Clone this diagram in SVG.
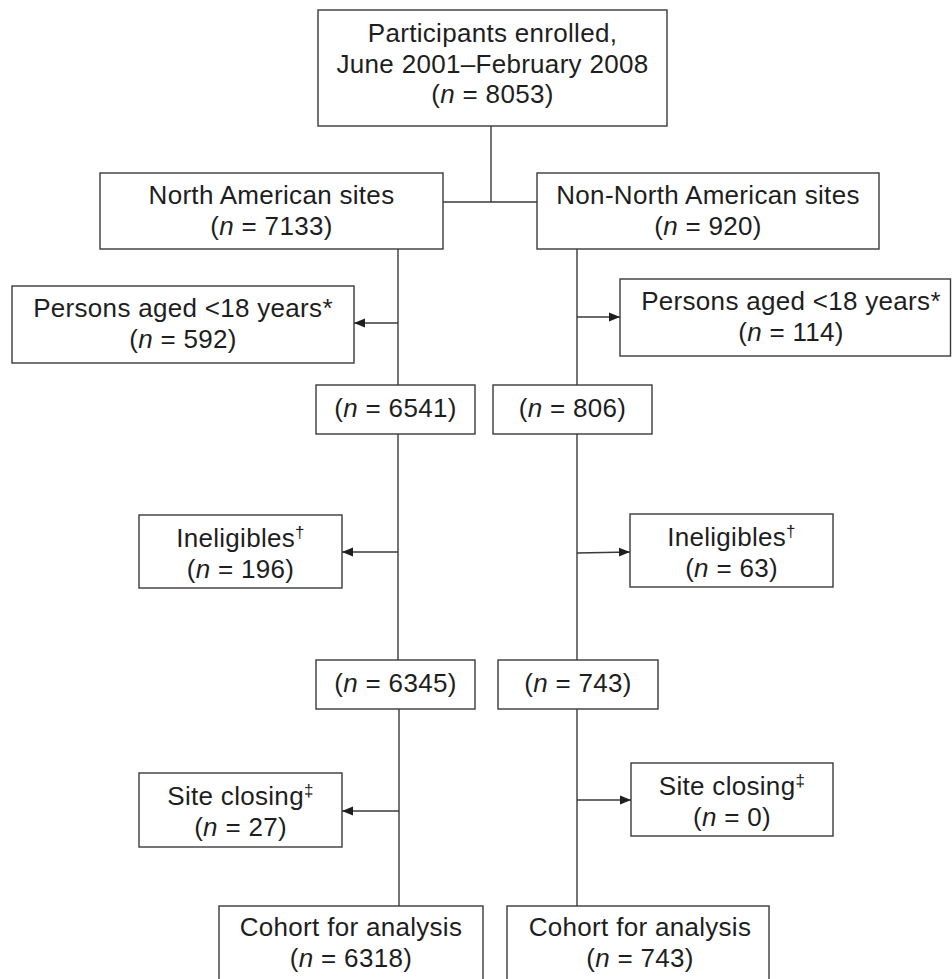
<svg xmlns="http://www.w3.org/2000/svg" width="952" height="979" viewBox="0 0 952 979">
<style>
.box{fill:#fff;stroke:#3a3a3a;stroke-width:1.4}
.ln{fill:none;stroke:#3a3a3a;stroke-width:1.4}
text{font-family:"Liberation Sans",Arial,sans-serif;font-size:26px;fill:#1e1e1e;text-anchor:middle;letter-spacing:0.3px}
.i{font-style:italic}
.sup{font-size:17px}
</style>
<defs>
<marker id="ah" viewBox="0 0 10 10" refX="10" refY="5" markerWidth="11" markerHeight="11" markerUnits="userSpaceOnUse" orient="auto">
<path d="M0,1 L10,5 L0,9 Z" fill="#1e1e1e"/>
</marker>
</defs>
<rect width="952" height="979" fill="#fff"/>
<g id="connectors">
<line class="ln" x1="491" y1="126" x2="491" y2="202"/>
<line class="ln" x1="443" y1="202" x2="537" y2="202"/>
<line class="ln" x1="398" y1="249" x2="398" y2="385"/>
<line class="ln" x1="398" y1="434" x2="398" y2="660"/>
<line class="ln" x1="399" y1="709" x2="399" y2="906"/>
<line class="ln" x1="577" y1="249" x2="577" y2="385"/>
<line class="ln" x1="577" y1="434" x2="577" y2="660"/>
<line class="ln" x1="577" y1="709" x2="577" y2="906"/>
<line class="ln" x1="398" y1="323" x2="354" y2="323" marker-end="url(#ah)"/>
<line class="ln" x1="398" y1="552" x2="342" y2="552" marker-end="url(#ah)"/>
<line class="ln" x1="399" y1="811" x2="342" y2="811" marker-end="url(#ah)"/>
<line class="ln" x1="577" y1="317" x2="620" y2="317" marker-end="url(#ah)"/>
<line class="ln" x1="577" y1="553" x2="630" y2="552" marker-end="url(#ah)"/>
<line class="ln" x1="577" y1="800" x2="631" y2="800" marker-end="url(#ah)"/>
</g>
<g id="enrolled">
<rect class="box" x="318" y="10" width="349" height="116"/>
<text x="492.5" y="42">Participants enrolled,</text>
<text x="492.5" y="73">June 2001–February 2008</text>
<text x="492.5" y="103">(<tspan class="i">n</tspan> = 8053)</text>
</g>
<g id="na">
<rect class="box" x="100" y="173" width="343" height="76"/>
<text x="271.5" y="204">North American sites</text>
<text x="271.5" y="235">(<tspan class="i">n</tspan> = 7133)</text>
</g>
<g id="nna">
<rect class="box" x="537" y="173" width="342" height="76"/>
<text x="708" y="204">Non-North American sites</text>
<text x="708" y="235">(<tspan class="i">n</tspan> = 920)</text>
</g>
<g id="minors-na">
<rect class="box" x="12" y="286" width="342" height="77"/>
<text x="183" y="317">Persons aged &lt;18 years*</text>
<text x="183" y="348">(<tspan class="i">n</tspan> = 592)</text>
</g>
<g id="minors-nna">
<rect class="box" x="620" y="279" width="330.5" height="77"/>
<text x="791" y="310">Persons aged &lt;18 years*</text>
<text x="791" y="341">(<tspan class="i">n</tspan> = 114)</text>
</g>
<g id="na-6541">
<rect class="box" x="316" y="385" width="159" height="49"/>
<text x="395.5" y="417">(<tspan class="i">n</tspan> = 6541)</text>
</g>
<g id="nna-806">
<rect class="box" x="493" y="385" width="159" height="49"/>
<text x="572.5" y="417">(<tspan class="i">n</tspan> = 806)</text>
</g>
<g id="inel-na">
<rect class="box" x="139" y="515" width="203" height="73"/>
<text x="240.5" y="547">Ineligibles<tspan class="sup" dy="-9">†</tspan></text>
<text x="240.5" y="578">(<tspan class="i">n</tspan> = 196)</text>
</g>
<g id="inel-nna">
<rect class="box" x="630" y="514" width="203" height="73"/>
<text x="731.5" y="546">Ineligibles<tspan class="sup" dy="-9">†</tspan></text>
<text x="731.5" y="577">(<tspan class="i">n</tspan> = 63)</text>
</g>
<g id="na-6345">
<rect class="box" x="316" y="660" width="159" height="49"/>
<text x="395.5" y="692">(<tspan class="i">n</tspan> = 6345)</text>
</g>
<g id="nna-743">
<rect class="box" x="498" y="660" width="160" height="49"/>
<text x="578" y="692">(<tspan class="i">n</tspan> = 743)</text>
</g>
<g id="site-na">
<rect class="box" x="139" y="773" width="203" height="74"/>
<text x="240.5" y="805">Site closing<tspan class="sup" dy="-9">‡</tspan></text>
<text x="240.5" y="836">(<tspan class="i">n</tspan> = 27)</text>
</g>
<g id="site-nna">
<rect class="box" x="631" y="763" width="202" height="73"/>
<text x="732" y="795">Site closing<tspan class="sup" dy="-9">‡</tspan></text>
<text x="732" y="826">(<tspan class="i">n</tspan> = 0)</text>
</g>
<g id="cohort-na">
<rect class="box" x="219" y="906" width="264" height="90"/>
<text x="351" y="936">Cohort for analysis</text>
<text x="351" y="967">(<tspan class="i">n</tspan> = 6318)</text>
</g>
<g id="cohort-nna">
<rect class="box" x="507" y="906" width="262" height="90"/>
<text x="640" y="936">Cohort for analysis</text>
<text x="640" y="967">(<tspan class="i">n</tspan> = 743)</text>
</g>
</svg>
